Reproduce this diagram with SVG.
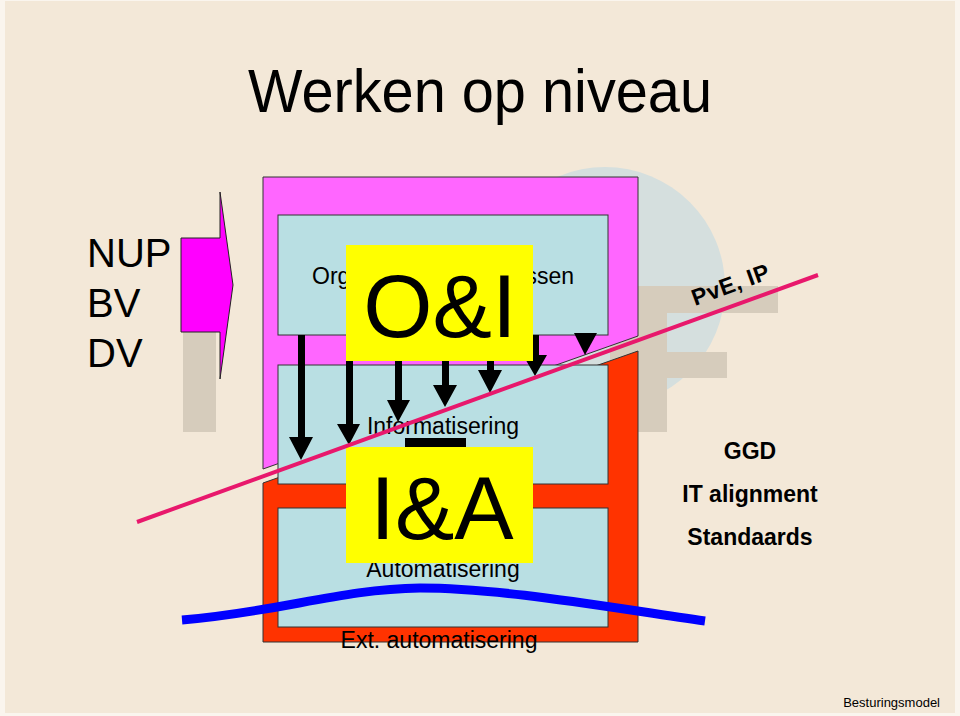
<svg xmlns="http://www.w3.org/2000/svg" width="960" height="716" viewBox="0 0 960 716">
<defs>
<style>
text{font-family:"Liberation Sans",Arial,sans-serif;fill:#000}
.box{fill:#B9DFE3;stroke:#333;stroke-width:1}
.frame{stroke:#333;stroke-width:1}
.yel{fill:#FFFF00}
.lbl{font-size:23px;text-anchor:middle}
.big{font-size:89px;text-anchor:middle}
.side{font-size:40px}
.bold{font-size:23px;font-weight:bold;text-anchor:middle}
.logo{fill:#D6CCBC}
.arr{fill:#000}
</style>
</defs>
<rect x="0" y="0" width="960" height="716" fill="#FAF5EE"/>
<rect x="5" y="1" width="950" height="712" fill="#F3E8D8"/>
<g id="logo">
<circle cx="605" cy="287" r="120" fill="#D5DFDE"/>
<rect class="logo" x="183" y="286" width="33" height="146"/>
<path class="logo" d="M610,286 H778 V313 H667 V352 H727 V378 H667 V432 H610 Z"/>
</g>
<g id="title"><text x="248" y="112" font-size="61" textLength="464" lengthAdjust="spacingAndGlyphs">Werken op niveau</text></g>
<g id="levels">
<text class="side" x="87" y="267">NUP</text>
<text class="side" x="87" y="317">BV</text>
<text class="side" x="87" y="367">DV</text>
</g>
<g id="input-arrow"><polygon points="181,238 220,238 220,192 233,285 220,379 220,332 181,332" fill="#FF00FF" stroke="#222" stroke-width="1"/></g>
<g id="oi-frame"><polygon class="frame" points="263,177 638,177 638,336 263,469" fill="#FF66FF"/></g>
<g id="ia-frame"><polygon class="frame" points="263,483 638,351 638,642 263,642" fill="#FF3300"/></g>
<g id="organisatie"><rect class="box" x="278" y="215" width="330" height="120"/><text x="312" y="284" font-size="23">Org</text><text x="574" y="284" font-size="23" text-anchor="end">ssen</text></g>
<g id="informatisering"><rect class="box" x="278" y="365" width="330" height="119"/><text class="lbl" x="443" y="434">Informatisering</text></g>
<g id="automatisering"><rect class="box" x="278" y="508" width="330" height="119"/><text class="lbl" x="443" y="577">Automatisering</text></g>
<g id="ext"><text class="lbl" x="439" y="648">Ext. automatisering</text></g>
<g id="connectors">
<path class="arr" d="M298,335 H305 V437 H313 L301,460 L289,437 H298 Z"/>
<path class="arr" d="M346,335 H353 V424 H360 L349,445 L337,424 H346 Z"/>
<path class="arr" d="M395,335 H402 V400 H410 L398,422 L387,400 H395 Z"/>
<path class="arr" d="M442,335 H449 V385 H457 L445,407 L433,385 H442 Z"/>
<path class="arr" d="M487,335 H494 V370 H502 L490,393 L478,370 H487 Z"/>
<path class="arr" d="M532,335 H539 V355 H547 L535,376 L523,355 H532 Z"/>
<path class="arr" d="M574,333 H597 L585,355 Z"/>
</g>
<g id="oi-label"><rect class="yel" x="346" y="245" width="187" height="116"/><text class="big" x="440" y="337">O&amp;I</text></g>
<g id="ia-label"><rect class="arr" x="405" y="438" width="61" height="9"/><rect class="yel" x="346" y="447" width="187" height="116"/><text class="big" x="442" y="539">I&amp;A</text></g>
<g id="boundary-line"><line x1="137" y1="522" x2="818" y2="275" stroke="#E8186C" stroke-width="4"/>
<text x="695" y="306" font-size="23" font-weight="bold" letter-spacing="0.5" transform="rotate(-20 695 306)">PvE, IP</text></g>
<g id="blue-curve"><path d="M182,620 C280,612 340,589 420,588 C500,588 600,606 705,621" fill="none" stroke="#0000FF" stroke-width="9"/></g>
<g id="right-labels">
<text class="bold" x="750" y="459">GGD</text>
<text class="bold" x="750" y="502">IT alignment</text>
<text class="bold" x="750" y="545">Standaards</text>
</g>
<g id="footer"><text x="940" y="707" font-size="13" text-anchor="end">Besturingsmodel</text></g>
</svg>
